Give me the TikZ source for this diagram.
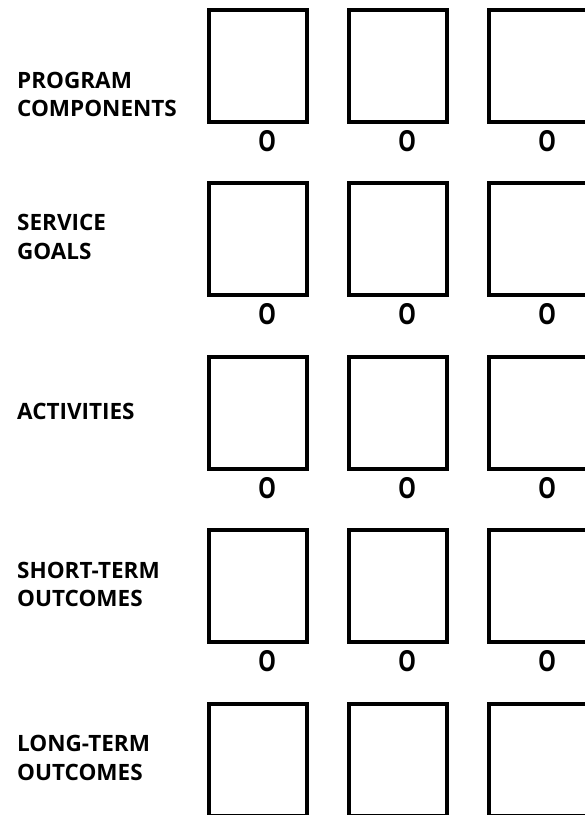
\documentclass[tikz,border=0pt]{standalone}
\usepackage{fontspec}
\setmainfont{Open Sans}
\usepackage{graphicx}
\begin{document}
\begin{tikzpicture}[x=1pt,y=-1pt,
  box/.style={draw=black, line width=4pt, minimum width=98pt, minimum height=112pt, inner sep=0pt, fill=white},
  lbl/.style={anchor=west, align=left, inner sep=0pt, font=\bfseries\fontsize{22.5}{28.5}\selectfont},
  omark/.style={inner sep=0pt, font=\bfseries\fontsize{29}{29}\selectfont}]
\useasboundingbox (0,0) rectangle (585,815);
\fill[white] (0,0) rectangle (585,815);
\clip (0,0) rectangle (585,815);
\foreach \r/\y in {1/65.5,2/239,3/413,4/586,5/760}{
  \foreach \c/\x in {1/258,2/398,3/538}{
    \node[box] (b\r\c) at (\x,\y) {};
  }
}
\foreach \r/\y in {1/65.5,2/239,3/413,4/586}{
  \foreach \c/\x in {1/258,2/398,3/538}{
    \node[omark] (o\r\c) at (\x+9,\y+75.5) {\scalebox{0.78}[1]{O}};
  }
}
\node[lbl] (l1) at (17,94.5) {PROGRAM\\COMPONENTS};
\node[lbl] (l2) at (17,237) {SERVICE\\GOALS};
\node[lbl] (l3) at (17,411.5) {ACTIVITIES};
\node[lbl] (l4) at (17,584.5) {SHORT-TERM\\OUTCOMES};
\node[lbl] (l5) at (17,758) {LONG-TERM\\OUTCOMES};
\end{tikzpicture}
\end{document}
